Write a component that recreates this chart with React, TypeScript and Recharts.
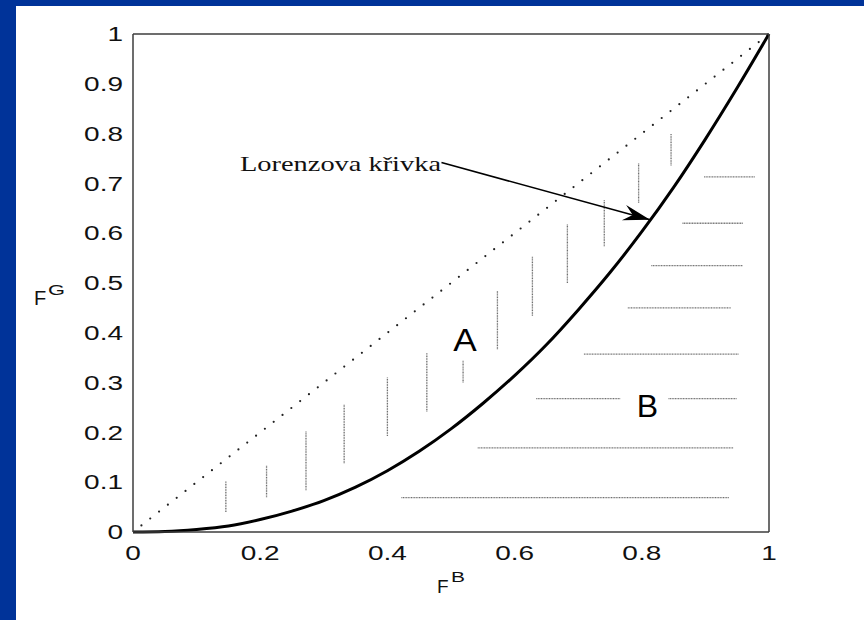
import React from 'react';
import { ComposedChart, Line, XAxis, YAxis } from 'recharts';

// ticks
const xTicks = [0, 0.2, 0.4, 0.6, 0.8, 1];
const yTicks = [0, 0.1, 0.2, 0.3, 0.4, 0.5, 0.6, 0.7, 0.8, 0.9, 1];

// Lorenz curve
const lorenzX = [0, 0.05, 0.1, 0.15, 0.2, 0.25, 0.3, 0.35, 0.4, 0.45, 0.5, 0.55, 0.6, 0.65, 0.7, 0.75, 0.8, 0.85, 0.9, 0.95, 1];
const lorenzY = [0, 0.001, 0.005, 0.012, 0.025, 0.042, 0.063, 0.09, 0.123, 0.162, 0.207, 0.258, 0.314, 0.376, 0.446, 0.521, 0.603, 0.692, 0.789, 0.892, 1];

// line of equality
const equalityX = [0, 1];
const equalityY = [0, 1];

// vertical hatching in area A: x, bottom, top
const hatchAX = [0.146, 0.21, 0.272, 0.332, 0.4, 0.462, 0.519, 0.573, 0.628, 0.683, 0.741, 0.795, 0.846];
const hatchAFrom = [0.04, 0.07, 0.084, 0.138, 0.193, 0.242, 0.3, 0.367, 0.434, 0.5, 0.574, 0.661, 0.736];
const hatchATo = [0.102, 0.133, 0.203, 0.257, 0.31, 0.359, 0.345, 0.484, 0.553, 0.618, 0.667, 0.741, 0.799];

// horizontal hatching in area B: y, left, right
const hatchBY = [0.069, 0.169, 0.268, 0.268, 0.357, 0.45, 0.535, 0.62, 0.713];
const hatchBFrom = [0.422, 0.542, 0.634, 0.842, 0.709, 0.778, 0.815, 0.864, 0.898];
const hatchBTo = [0.937, 0.944, 0.766, 0.949, 0.952, 0.94, 0.959, 0.959, 0.978];

// annotation arrow: from end of text to the curve
const arrowX = [0.485, 0.813];
const arrowY = [0.742, 0.627];

const lorenzData = lorenzX.map((x, i) => ({ x, y: lorenzY[i] }));
const equalityData = equalityX.map((x, i) => ({ x, y: equalityY[i] }));
const arrowData = arrowX.map((x, i) => ({ x, y: arrowY[i] }));
const hatchA = hatchAX.map((x, i) => [
  { x, y: hatchAFrom[i] },
  { x, y: hatchATo[i] },
]);
const hatchB = hatchBY.map((y, i) => [
  { x: hatchBFrom[i], y },
  { x: hatchBTo[i], y },
]);

const AXIS = '#3c3c3c';
const SANS = '"Liberation Sans", Arial, Helvetica, sans-serif';
const SERIF = '"Liberation Serif", "Times New Roman", serif';
const STRETCH = 1.4;

// tick labels in the picture are wider than the font, so stretch them
const XTick = (props: any) => {
  const { x, y, payload } = props;
  return (
    <text transform={`translate(${x},${y}) scale(${STRETCH},1)`} dy="0.71em" textAnchor="middle" fontSize={20} fontFamily={SANS} fill="#111">
      {String(payload.value)}
    </text>
  );
};

const YTick = (props: any) => {
  const { x, y, payload } = props;
  return (
    <text transform={`translate(${x},${y}) scale(${STRETCH},1)`} dy="0.36em" textAnchor="end" fontSize={20} fontFamily={SANS} fill="#111">
      {String(payload.value)}
    </text>
  );
};

let arrowTail = { x: 0, y: 0 };
const ArrowHead = (props: any) => {
  const { cx, cy, index } = props;
  if (index === 0) {
    arrowTail = { x: cx, y: cy };
    return <g key="arrow-tail" />;
  }
  const ang = (Math.atan2(cy - arrowTail.y, cx - arrowTail.x) * 180) / Math.PI;
  return (
    <polygon
      key="arrow-head"
      points="0,0 -27,-8 -18,0 -27,8"
      transform={`translate(${cx},${cy}) rotate(${ang})`}
      fill="#000"
    />
  );
};

export default function App() {
  const lineStyle = { stroke: AXIS, strokeWidth: 1.5 };
  const hatchProps = {
    xAxisId: 'b',
    yAxisId: 'l',
    dataKey: 'y',
    type: 'linear' as const,
    stroke: '#707070',
    strokeWidth: 1.3,
    strokeDasharray: '1 0.6',
    dot: false,
    activeDot: false,
    isAnimationActive: false,
  };

  return (
    <div style={{ position: 'absolute', left: 0, top: 0, width: 864, height: 620, background: '#003399', overflow: 'hidden' }}>
      <div style={{ position: 'absolute', left: 16, top: 6, width: 848, height: 614, background: '#fff' }} />
      <div style={{ position: 'absolute', left: 0, top: 0 }}>
        <ComposedChart width={864} height={620} margin={{ top: 34, right: 95, bottom: 58, left: 73 }}>
          <XAxis
            xAxisId="b"
            type="number"
            dataKey="x"
            domain={[0, 1]}
            ticks={xTicks}
            interval={0}
            height={30}
            tickSize={0}
            tickMargin={14}
            tickLine={false}
            axisLine={lineStyle}
            tick={XTick}
          />
          <XAxis xAxisId="bm" orientation="bottom" mirror type="number" dataKey="x" domain={[0, 1]} ticks={xTicks} interval={0} tick={false} tickSize={7} tickLine={lineStyle} axisLine={false} />
          <XAxis xAxisId="tm" orientation="top" mirror type="number" dataKey="x" domain={[0, 1]} ticks={xTicks} interval={0} tick={false} tickSize={7} tickLine={lineStyle} axisLine={lineStyle} />
          <YAxis
            yAxisId="l"
            type="number"
            dataKey="y"
            domain={[0, 1]}
            ticks={yTicks}
            interval={0}
            width={60}
            tickSize={0}
            tickMargin={10}
            tickLine={false}
            axisLine={lineStyle}
            tick={YTick}
          />
          <YAxis yAxisId="lm" orientation="left" mirror type="number" dataKey="y" domain={[0, 1]} ticks={yTicks} interval={0} tick={false} tickSize={7} tickLine={lineStyle} axisLine={false} />
          <YAxis yAxisId="rm" orientation="right" mirror type="number" dataKey="y" domain={[0, 1]} ticks={yTicks} interval={0} tick={false} tickSize={7} tickLine={lineStyle} axisLine={lineStyle} />

          {hatchA.map((seg, i) => (
            <Line key={`a-${i}`} data={seg} {...hatchProps} />
          ))}
          {hatchB.map((seg, i) => (
            <Line key={`b-${i}`} data={seg} {...hatchProps} />
          ))}
          <Line
            xAxisId="b"
            yAxisId="l"
            data={equalityData}
            dataKey="y"
            type="linear"
            stroke="#222"
            strokeWidth={2.2}
            strokeLinecap="round"
            strokeDasharray="0 11.2"
            strokeDashoffset={-10.7}
            dot={false}
            activeDot={false}
            isAnimationActive={false}
          />
          <Line
            xAxisId="b"
            yAxisId="l"
            data={lorenzData}
            dataKey="y"
            type="monotone"
            stroke="#000"
            strokeWidth={3}
            dot={false}
            activeDot={false}
            isAnimationActive={false}
          />
          <Line
            xAxisId="b"
            yAxisId="l"
            data={arrowData}
            dataKey="y"
            type="linear"
            stroke="#000"
            strokeWidth={1.6}
            dot={ArrowHead}
            activeDot={false}
            isAnimationActive={false}
          />
        </ComposedChart>
      </div>
      <svg width={864} height={620} style={{ position: 'absolute', left: 0, top: 0, pointerEvents: 'none' }}>
        <text x={240} y={171} fontFamily={SERIF} fontSize={21} fill="#111" textLength={201} lengthAdjust="spacingAndGlyphs">
          Lorenzova křivka
        </text>
        <text x={465} y={351} fontFamily={SANS} fontSize={32} textAnchor="middle" fill="#000" transform="translate(465,0) scale(1.1,1) translate(-465,0)">A</text>
        <text x={647.5} y={417} fontFamily={SANS} fontSize={32} textAnchor="middle" fill="#000">B</text>
        <text x={34} y={305} fontFamily={SANS} fontSize={20} fill="#111">F</text>
        <text x={48} y={295} fontFamily={SANS} fontSize={14} fill="#111" textLength={17} lengthAdjust="spacingAndGlyphs">G</text>
        <text x={437} y={593} fontFamily={SANS} fontSize={19} fill="#111">F</text>
        <text x={451} y={582} fontFamily={SANS} fontSize={14} fill="#111" textLength={14} lengthAdjust="spacingAndGlyphs">B</text>
      </svg>
    </div>
  );
}
